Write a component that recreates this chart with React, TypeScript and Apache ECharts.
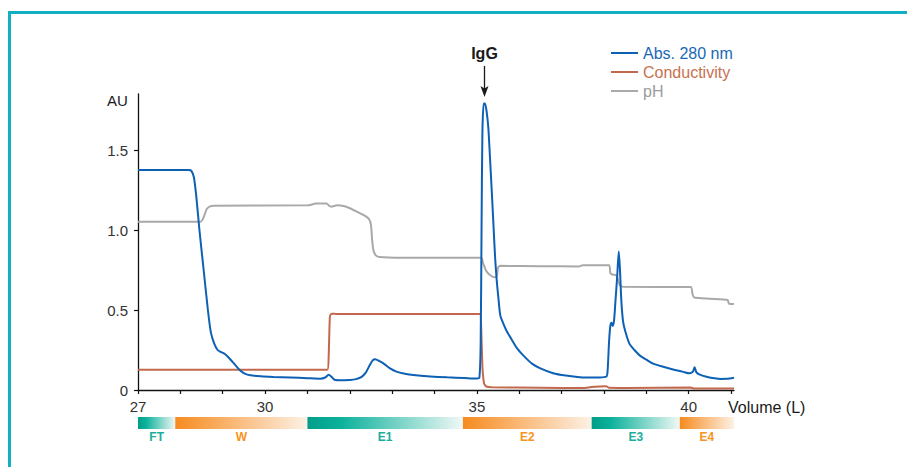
import React, { useEffect, useRef } from "react";
import * as echarts from "echarts";

// Volume (L) -> value pairs
const abs280: [number, number][] = [
  [27.0, 1.375], [28.2, 1.375], [28.26, 1.37], [28.32, 1.33], [28.38, 1.2], [28.45, 1.0],
  [28.55, 0.75], [28.65, 0.5], [28.72, 0.36], [28.8, 0.29], [28.88, 0.25], [28.95, 0.238],
  [29.05, 0.225], [29.15, 0.2], [29.3, 0.155], [29.42, 0.12], [29.52, 0.102], [29.65, 0.092],
  [29.9, 0.086], [30.2, 0.082], [30.6, 0.078], [31.0, 0.074], [31.3, 0.071], [31.42, 0.078],
  [31.5, 0.095], [31.56, 0.085], [31.64, 0.064], [31.8, 0.061], [32.0, 0.062], [32.15, 0.068],
  [32.28, 0.082], [32.38, 0.11], [32.46, 0.15], [32.54, 0.185], [32.6, 0.192], [32.7, 0.18],
  [32.8, 0.165], [32.95, 0.135], [33.1, 0.115], [33.3, 0.102], [33.5, 0.094], [33.9, 0.085],
  [34.3, 0.079], [34.7, 0.075], [35.0, 0.072], [35.06, 0.078], [35.09, 0.3], [35.11, 1.0],
  [35.13, 1.6], [35.16, 1.79], [35.19, 1.79], [35.23, 1.74], [35.27, 1.64], [35.31, 1.45],
  [35.35, 1.25], [35.39, 1.04], [35.43, 0.83], [35.47, 0.68], [35.51, 0.57], [35.55, 0.47],
  [35.6, 0.43], [35.7, 0.37], [35.8, 0.325], [35.95, 0.26], [36.1, 0.215], [36.3, 0.165],
  [36.5, 0.135], [36.8, 0.105], [37.1, 0.09], [37.43, 0.08], [37.8, 0.078], [38.04, 0.082],
  [38.08, 0.1], [38.12, 0.3], [38.15, 0.4], [38.18, 0.42], [38.21, 0.4], [38.24, 0.44],
  [38.27, 0.55], [38.31, 0.7], [38.35, 0.865], [38.38, 0.74], [38.41, 0.56], [38.45, 0.43],
  [38.5, 0.37], [38.6, 0.29], [38.72, 0.25], [38.85, 0.215], [39.0, 0.19], [39.16, 0.165],
  [39.4, 0.145], [39.63, 0.128], [39.85, 0.115], [40.02, 0.104], [40.1, 0.115], [40.14, 0.142],
  [40.18, 0.112], [40.25, 0.098], [40.42, 0.083], [40.6, 0.074], [40.75, 0.069], [40.9, 0.07],
  [41.07, 0.077],
];

const conductivity: [number, number][] = [
  [27.0, 0.127], [31.47, 0.127], [31.5, 0.2], [31.53, 0.46], [31.57, 0.477], [31.7, 0.475],
  [35.07, 0.475], [35.1, 0.4], [35.13, 0.15], [35.17, 0.04], [35.22, 0.022], [35.35, 0.017],
  [36.5, 0.014], [37.5, 0.012], [37.7, 0.018], [37.9, 0.022], [38.05, 0.024], [38.12, 0.014],
  [38.5, 0.013], [40.05, 0.016], [40.12, 0.009], [41.07, 0.009],
];

const pH: [number, number][] = [
  [27.0, 1.052], [28.48, 1.052], [28.55, 1.08], [28.62, 1.13], [28.7, 1.148], [28.8, 1.152],
  [31.0, 1.154], [31.2, 1.165], [31.45, 1.166], [31.52, 1.15], [31.56, 1.146], [31.7, 1.154],
  [31.85, 1.15], [32.0, 1.136], [32.2, 1.11], [32.38, 1.085], [32.46, 1.065], [32.5, 1.03],
  [32.53, 0.93], [32.56, 0.87], [32.62, 0.84], [32.7, 0.832], [33.2, 0.827], [35.1, 0.826],
  [35.15, 0.79], [35.22, 0.745], [35.3, 0.72], [35.42, 0.705], [35.47, 0.71], [35.5, 0.765],
  [35.55, 0.776], [36.5, 0.774], [37.4, 0.772], [37.5, 0.78], [38.12, 0.78], [38.15, 0.73],
  [38.2, 0.722], [38.3, 0.715], [38.34, 0.68], [38.38, 0.652], [38.45, 0.645], [40.05, 0.644],
  [40.09, 0.6], [40.13, 0.578], [40.5, 0.57], [40.92, 0.562], [40.95, 0.54], [41.07, 0.537],
];

const fractionNames = ["FT", "W", "E1", "E2", "E3", "E4"];
const fractionStart = [27.0, 27.88, 31.0, 34.67, 37.71, 39.79];
const fractionEnd = [27.88, 31.0, 34.67, 37.71, 39.79, 41.07];
const fractionKind = ["teal", "orange", "teal", "orange", "teal", "orange"];

const xTicks = [27, 28, 29, 30, 31, 32, 33, 34, 35, 36, 37, 38, 39, 40, 41];
const xTickLabels = [27, 30, 35, 40];
const yTicks = [0, 0.5, 1.0, 1.5];

const seriesNames = ["Abs. 280 nm", "Conductivity", "pH"];
const X_MIN = 27;
const X_MAX = 41.07;
const Y_MAX = 1.85;

const FONT = "'Liberation Sans', Arial, Helvetica, sans-serif";
const BLUE = "#0d60b4";
const RUST = "#c2694d";
const GRAY = "#a9a9a9";

export default function App() {
  const ref = useRef<HTMLDivElement>(null);

  useEffect(() => {
    if (!ref.current) return;
    const chart = echarts.init(ref.current, undefined, { renderer: "svg" });

    const tealStops = [
      { offset: 0, color: "#009e89" },
      { offset: 0.22, color: "#0db29c" },
      { offset: 1, color: "#f1f8f6" },
    ];
    const orangeStops = [
      { offset: 0, color: "#f68b1f" },
      { offset: 1, color: "#fdf1e5" },
    ];

    const option: any = {
      animation: false,
      backgroundColor: "#ffffff",
      textStyle: { fontFamily: FONT },
      grid: [
        { left: 138, right: 173, top: 94, bottom: 77 },
        { left: 138, right: 173, top: 417, height: 12 },
      ],
      legend: {
        orient: "vertical",
        left: 606,
        top: 40,
        itemWidth: 27,
        itemHeight: 2,
        itemGap: 3,
        icon: "rect",
        textStyle: { fontSize: 16, lineHeight: 16, fontFamily: FONT },
        data: [
          { name: seriesNames[0], textStyle: { color: "#1a68b6" } },
          { name: seriesNames[1], textStyle: { color: "#c8714f" } },
          { name: seriesNames[2], textStyle: { color: "#9c9c9c" } },
        ],
      },
      xAxis: [
        {
          type: "value",
          gridIndex: 0,
          min: X_MIN,
          max: X_MAX,
          splitLine: { show: false },
          axisLine: { show: true, onZero: false, lineStyle: { color: "#111", width: 1.3 } },
          axisTick: {
            show: true,
            inside: false,
            length: 4,
            customValues: xTicks,
            lineStyle: { color: "#111", width: 1.2 },
          },
          axisLabel: {
            customValues: xTickLabels,
            margin: 9,
            fontSize: 15,
            color: "#333",
            fontFamily: FONT,
            formatter: (v: number) => String(v),
          },
        },
        {
          type: "value",
          gridIndex: 1,
          min: X_MIN,
          max: X_MAX,
          show: false,
        },
      ],
      yAxis: [
        {
          type: "value",
          gridIndex: 0,
          min: 0,
          max: Y_MAX,
          splitLine: { show: false },
          axisLine: { show: true, lineStyle: { color: "#111", width: 1.3 } },
          axisTick: {
            show: true,
            length: 4,
            customValues: yTicks,
            lineStyle: { color: "#111", width: 1.2 },
          },
          axisLabel: {
            customValues: yTicks,
            margin: 10,
            fontSize: 15,
            color: "#333",
            fontFamily: FONT,
            formatter: (v: number) => (v === 0 ? "0" : v.toFixed(1)),
          },
        },
        { type: "value", gridIndex: 1, min: 0, max: 1, show: false },
      ],
      series: [
        {
          name: seriesNames[2],
          type: "line",
          xAxisIndex: 0,
          yAxisIndex: 0,
          data: pH,
          showSymbol: false,
          symbol: "none",
          smooth: 0.2,
          color: GRAY,
          lineStyle: { color: GRAY, width: 2 },
          z: 2,
        },
        {
          name: seriesNames[1],
          type: "line",
          xAxisIndex: 0,
          yAxisIndex: 0,
          data: conductivity,
          showSymbol: false,
          symbol: "none",
          smooth: 0.15,
          color: RUST,
          lineStyle: { color: RUST, width: 2 },
          z: 3,
        },
        {
          name: seriesNames[0],
          type: "line",
          xAxisIndex: 0,
          yAxisIndex: 0,
          data: abs280,
          showSymbol: false,
          symbol: "none",
          smooth: 0.25,
          color: BLUE,
          lineStyle: { color: BLUE, width: 2 },
          z: 4,
        },
        {
          type: "custom",
          xAxisIndex: 1,
          yAxisIndex: 1,
          silent: true,
          data: fractionNames.map((n, i) => [fractionStart[i], fractionEnd[i]]),
          renderItem: (params: any, api: any) => {
            const i = params.dataIndex;
            const p0 = api.coord([api.value(0), 1]);
            const p1 = api.coord([api.value(1), 0]);
            const teal = fractionKind[i] === "teal";
            return {
              type: "group",
              children: [
                {
                  type: "rect",
                  shape: { x: p0[0], y: p0[1], width: p1[0] - p0[0], height: p1[1] - p0[1] },
                  style: {
                    fill: new echarts.graphic.LinearGradient(0, 0, 1, 0, teal ? tealStops : orangeStops),
                  },
                },
                {
                  type: "text",
                  style: {
                    text: fractionNames[i],
                    x: (p0[0] + p1[0]) / 2,
                    y: p1[1] + 7.5,
                    align: "center",
                    verticalAlign: "middle",
                    fontSize: 12,
                    fontWeight: "bold",
                    fontFamily: FONT,
                    fill: teal ? "#1aae9c" : "#f7941d",
                  },
                },
              ],
            };
          },
        },
      ],
      graphic: [
        {
          type: "rect",
          silent: true,
          shape: { x: 9.5, y: 12.5, width: 2000, height: 2000 },
          style: { fill: "none", stroke: "#10afc1", lineWidth: 3 },
        },
        {
          type: "text",
          style: { text: "AU", x: 107, y: 100, verticalAlign: "middle", fontSize: 15, fontFamily: FONT, fill: "#1a1a1a" },
        },
        {
          type: "text",
          style: { text: "Volume (L)", x: 728, y: 407, verticalAlign: "middle", fontSize: 16, fontFamily: FONT, fill: "#1a1a1a" },
        },
        {
          type: "text",
          style: {
            text: "IgG",
            x: 484.5,
            y: 53,
            align: "center",
            verticalAlign: "middle",
            fontSize: 16,
            fontWeight: "bold",
            fontFamily: FONT,
            fill: "#1a1a1a",
          },
        },
        {
          type: "line",
          shape: { x1: 484.5, y1: 66, x2: 484.5, y2: 90 },
          style: { stroke: "#1a1a1a", lineWidth: 1.3 },
        },
        {
          type: "polygon",
          shape: { points: [[480.5, 86], [484.5, 88.5], [488.5, 86], [484.5, 97]] },
          style: { fill: "#1a1a1a" },
        },
      ],
    };

    chart.setOption(option);
    return () => chart.dispose();
  }, []);

  return (
    <div
      ref={ref}
      style={{ position: "fixed", left: 0, top: 0, width: 907, height: 467, background: "#fff" }}
    />
  );
}
